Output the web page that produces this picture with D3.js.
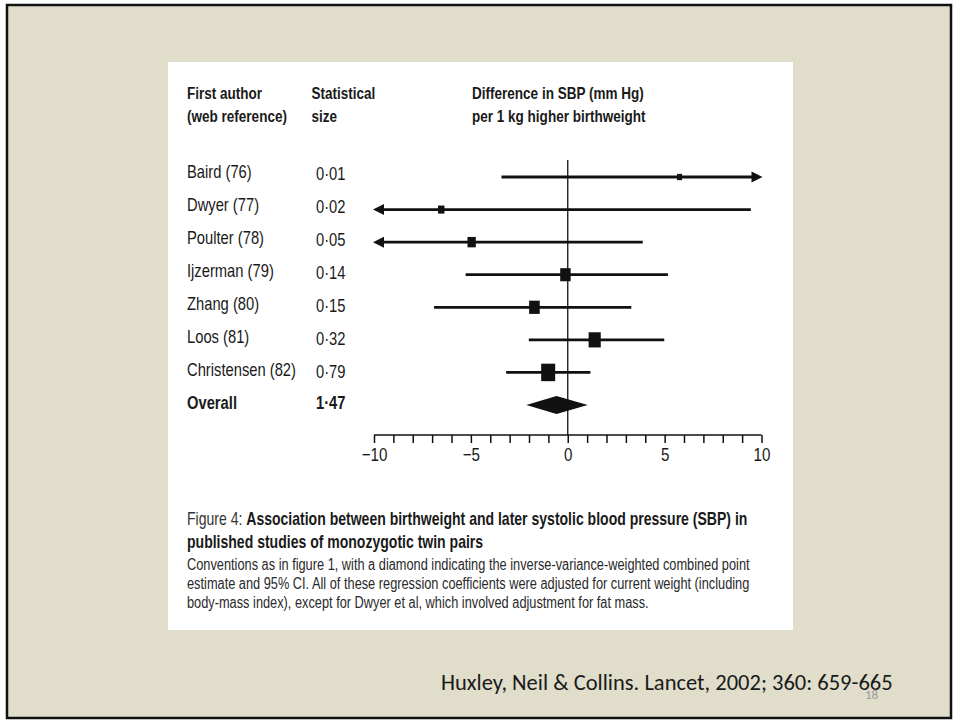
<!DOCTYPE html>
<html>
<head>
<meta charset="utf-8">
<script src="https://cdn.jsdelivr.net/npm/d3@7"></script>
<style>
  body { margin: 0; background: #fff; }
  .cond { font-family: "Liberation Sans", Arial, sans-serif; fill: #1a1a1a; }
</style>
</head>
<body>
<div id="slide"></div>
<script>
// study rows
var studies = ['Baird (76)', 'Dwyer (77)', 'Poulter (78)', 'Ijzerman (79)', 'Zhang (80)', 'Loos (81)', 'Christensen (82)'];
var statSize = [0.01, 0.02, 0.05, 0.14, 0.15, 0.32, 0.79];
var estimate = [5.77, -6.53, -4.96, -0.12, -1.72, 1.39, -1.01];
var lower = [-3.42, -22.5, -13.8, -5.27, -6.9, -2.01, -3.18];
var upper = [14.96, 9.45, 3.87, 5.17, 3.28, 4.98, 1.17];

// pooled result
var overallLabel = 'Overall';
var overallSize = 1.47;
var overallEst = -0.58;
var overallLow = -2.14;
var overallHigh = 1.03;

var xTicks = [-10, -5, 0, 5, 10];

var width = 958, height = 723;
var squeeze = 0.82;   // narrow the sans font like a condensed face

var svg = d3
    .select('#slide')
    .append('svg')
    .attr('width', width)
    .attr('height', height);

// slide background + frame
svg.append('rect')
    .attr('x', 7).attr('y', 5)
    .attr('width', 944).attr('height', 713)
    .attr('fill', '#e0ddcb')
    .attr('stroke', '#111')
    .attr('stroke-width', 2.5);

// white figure panel
svg.append('rect')
    .attr('x', 168).attr('y', 62)
    .attr('width', 625).attr('height', 568)
    .attr('fill', '#fff');

var fmt = function(v) { return d3.format('.2f')(v).replace('.', '\u00b7'); };

// condensed text helper
function ntext(g, tx, ty, str, sq) {
    return g.append('text')
        .attr('transform', 'translate(' + tx + ',' + ty + ') scale(' + (sq || squeeze) + ',1)')
        .text(str);
}

var x = d3.scaleLinear().domain([-10, 10]).range([374, 761.5]);

var rows = studies.concat([overallLabel]);
var y = d3.scalePoint().domain(rows).range([177, 405]);
var yText = d3.scalePoint().domain(rows).range([178, 409]);
var box = d3.scaleLog().domain([0.01, 0.79]).range([5, 14]);

// column headers
var head = svg.append('g').attr('class', 'cond').style('font-weight', 'bold').style('font-size', '16.5px');
[['First author', '(web reference)', 187], ['Statistical', 'size', 311.5],
 ['Difference in SBP (mm Hg)', 'per 1 kg higher birthweight', 472]].forEach(function(h) {
    ntext(head, h[2], 99, h[0]);
    ntext(head, h[2], 122, h[1]);
});

// labels
var labels = svg.append('g').attr('class', 'cond').style('font-size', '18px');
studies.forEach(function(s, i) {
    ntext(labels, 187, yText(s), s);
    ntext(labels, 316, yText(s) + 2, fmt(statSize[i]));
});
ntext(labels, 187, yText(overallLabel), overallLabel).style('font-weight', 'bold');
ntext(labels, 316, yText(overallLabel), fmt(overallSize)).style('font-weight', 'bold');

// zero line
svg.append('line')
    .attr('x1', x(0)).attr('x2', x(0))
    .attr('y1', 160).attr('y2', 435)
    .attr('stroke', '#111')
    .attr('stroke-width', 1.3);

// axis
var axis = d3.axisBottom(x)
    .tickValues(d3.range(-10, 11))
    .tickSize(8)
    .tickPadding(5)
    .tickFormat(function(d) { return xTicks.indexOf(d) >= 0 ? (d < 0 ? '\u2212' + (-d) : d) : ''; });

var ax = svg.append('g')
    .attr('transform', 'translate(0,435)')
    .call(axis);
ax.select('.domain').attr('d', 'M' + x(-10) + ',0H' + x(10)).attr('stroke', '#111').attr('stroke-width', 1.5);
ax.selectAll('.tick line').attr('stroke', '#111').attr('stroke-width', 1.5);
ax.selectAll('.tick text')
    .attr('class', 'cond')
    .attr('transform', 'scale(' + squeeze + ',1)')
    .style('font-size', '18.5px')
    .attr('fill', '#1a1a1a');

// CI lines
var lo = x.domain()[0], hi = x.domain()[1];
var ci = svg.append('g');
studies.forEach(function(s, i) {
    var yy = y(s);
    var l = Math.max(lower[i], lo), u = Math.min(upper[i], hi);
    var x1 = lower[i] < lo ? x(l) + 8 : x(l);
    var x2 = upper[i] > hi ? x(u) - 8 : x(u);
    ci.append('line')
        .attr('x1', x1).attr('x2', x2)
        .attr('y1', yy).attr('y2', yy)
        .attr('stroke', '#111')
        .attr('stroke-width', 2.8);
    if (lower[i] < lo) {
        ci.append('path')
            .attr('d', 'M' + (x(l) - 1) + ',' + yy + 'L' + (x(l) + 10) + ',' + (yy - 5.5) + 'L' + (x(l) + 10) + ',' + (yy + 5.5) + 'Z')
            .attr('fill', '#111');
    }
    if (upper[i] > hi) {
        ci.append('path')
            .attr('d', 'M' + (x(u) + 1) + ',' + yy + 'L' + (x(u) - 10) + ',' + (yy - 5.5) + 'L' + (x(u) - 10) + ',' + (yy + 5.5) + 'Z')
            .attr('fill', '#111');
    }
    var w = box(statSize[i]), h = w * 1.25;
    ci.append('rect')
        .attr('x', x(estimate[i]) - w / 2)
        .attr('y', yy - h / 2)
        .attr('width', w)
        .attr('height', h)
        .attr('fill', '#111');
});

// diamond
var dy = y(overallLabel);
svg.append('path')
    .attr('d', 'M' + x(overallLow) + ',' + dy + 'L' + x(overallEst) + ',' + (dy - 9) +
               'L' + x(overallHigh) + ',' + dy + 'L' + x(overallEst) + ',' + (dy + 9) + 'Z')
    .attr('fill', '#111');

// caption
var cap = svg.append('g').attr('class', 'cond');
var t1 = ntext(cap, 187, 525, null, 0.78).style('font-size', '18px');
t1.append('tspan').text('Figure 4: ').attr('fill', '#333');
t1.append('tspan').style('font-weight', 'bold').text('Association between birthweight and later systolic blood pressure (SBP) in');
ntext(cap, 187, 548, 'published studies of monozygotic twin pairs', 0.78)
    .style('font-size', '18px')
    .style('font-weight', 'bold');
var body = ['Conventions as in figure 1, with a diamond indicating the inverse-variance-weighted combined point',
    'estimate and 95% CI. All of these regression coefficients were adjusted for current weight (including',
    'body-mass index), except for Dwyer et al, which involved adjustment for fat mass.'];
body.forEach(function(line, i) {
    ntext(cap, 187, 570 + i * 19, line)
        .style('font-size', '15.6px')
        .attr('fill', '#2a2a2a');
});

// source
svg.append('text')
    .attr('x', 441).attr('y', 690)
    .style('font-family', 'Carlito, Lato, sans-serif')
    .style('font-size', '22.5px')
    .attr('fill', '#1a1a1a')
    .text('Huxley, Neil & Collins. Lancet, 2002; 360: 659-665');
svg.append('text')
    .attr('x', 865).attr('y', 699)
    .style('font-family', 'Carlito, Lato, sans-serif')
    .style('font-size', '13px')
    .attr('fill', '#999')
    .text('18');
</script>
</body>
</html>
